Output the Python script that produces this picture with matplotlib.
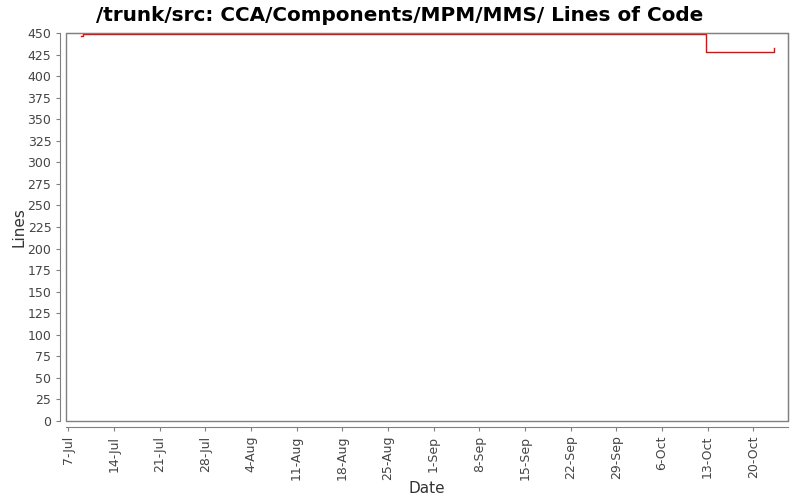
import matplotlib.pyplot as plt
import matplotlib.dates as mdates
from datetime import datetime

# step data (lines of code)
dates = ["2007-07-09", "2007-07-09 06:00", "2007-10-12 18:00", "2007-10-23", "2007-10-23 06:00"]
lines = [447, 449, 428, 428, 433]

tick_dates = ["2007-07-07", "2007-07-14", "2007-07-21", "2007-07-28", "2007-08-04",
              "2007-08-11", "2007-08-18", "2007-08-25", "2007-09-01", "2007-09-08",
              "2007-09-15", "2007-09-22", "2007-09-29", "2007-10-06", "2007-10-13",
              "2007-10-20"]
y_ticks = list(range(0, 451, 25))

x = [datetime.fromisoformat(d) for d in dates]
xt = [datetime.fromisoformat(d) for d in tick_dates]

fig = plt.figure(figsize=(8, 5), dpi=100)
ax = fig.add_axes([0.0825, 0.158, 0.9025, 0.776])

ax.step(x, lines, where="post", color="red", lw=1)

ax.set_ylim(0, 450)
ax.set_xlim(datetime(2007, 7, 6, 16), datetime(2007, 10, 25, 8))
ax.set_yticks(y_ticks)
ax.set_xticks(xt)
ax.xaxis.set_major_formatter(mdates.DateFormatter("%-d-%b"))

for s in ax.spines.values():
    s.set_color("#808080")
ax.spines["left"].set_position(("outward", 4))
ax.spines["bottom"].set_position(("outward", 4))
# box around the plot area itself
ax.add_patch(plt.Rectangle((0, 0), 1, 1, transform=ax.transAxes, fill=False,
                           edgecolor="#808080", lw=1, clip_on=False))

ax.tick_params(axis="both", colors="#808080", labelcolor="#444444", labelsize=9,
               length=3, width=0.8)
ax.tick_params(axis="x", labelrotation=90)

ax.set_xlabel("Date", fontsize=11, color="#333333", labelpad=1)
ax.set_ylabel("Lines", fontsize=11, color="#333333", labelpad=1)
fig.suptitle("/trunk/src: CCA/Components/MPM/MMS/ Lines of Code",
             fontsize=14.4, fontweight="bold", x=0.5, y=0.988)

fig.savefig("out.png", dpi=100)
